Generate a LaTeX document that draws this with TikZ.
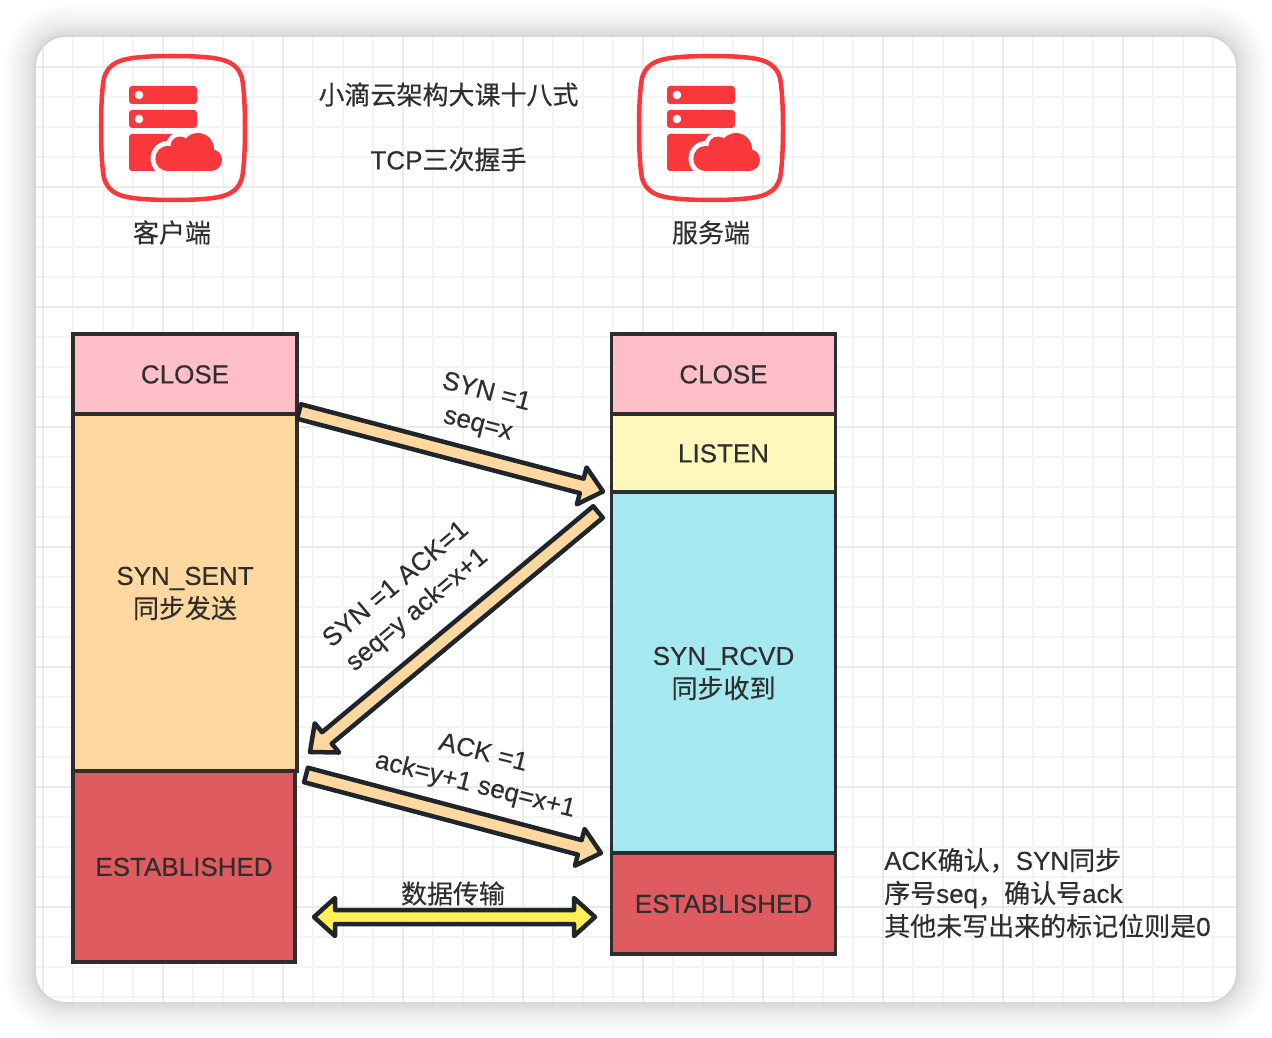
\documentclass[tikz,border=0pt]{standalone}
\usepackage{fontspec}
\setmainfont{Liberation Sans}[FakeBold=0.25]
\newfontfamily\cjk{Noto Sans CJK SC}[FakeBold=0.25]
\usetikzlibrary{calc}
\definecolor{inkdark}{HTML}{1F262B}
\definecolor{textdark}{HTML}{2E2E2E}
\definecolor{iconred}{HTML}{FA383C}
\definecolor{closepink}{HTML}{FFBFC9}
\definecolor{sentorange}{HTML}{FFD8A0}
\definecolor{estred}{HTML}{DE5B60}
\definecolor{listenyellow}{HTML}{FFF8BD}
\definecolor{rcvdcyan}{HTML}{A5E8F0}
\definecolor{datayellow}{HTML}{FFF056}
\definecolor{gridminor}{HTML}{F4F4F4}
\definecolor{gridmajor}{HTML}{EBEBEB}
\tikzset{
	label text/.style={font=\fontsize{26}{33}\selectfont, color=textdark, align=center, inner sep=0pt},
	statebox/.style={draw=inkdark, line width=3.5pt, minimum width=224pt, inner sep=0pt, outer sep=0pt, label text, text=textdark, text height=19pt},
	statebox two/.style={statebox, text height=53pt},
	arrow line/.style={draw=inkdark, line width=4.5pt, line join=round},
}
\newcommand{\zh}[1]{{\cjk #1}}
\def\blockarrow[#1](#2)(#3){
	\coordinate (neck) at ($(#3)!22pt!(#2)$);
	\draw[arrow line, #1] ($(#2)!7.5pt!90:(#3)$) -- ($(neck)!7.5pt!90:(#3)$) -- ($(neck)!19pt!90:(#3)$) -- (#3)
		-- ($(neck)!19pt!-90:(#3)$) -- ($(neck)!7.5pt!-90:(#3)$) -- ($(#2)!7.5pt!-90:(#3)$) -- cycle;
}
\def\dataarrow[#1](#2)(#3){
	\coordinate (neckA) at ($(#2)!21pt!(#3)$);
	\coordinate (neckB) at ($(#3)!21pt!(#2)$);
	\draw[arrow line, #1] (#2) -- ($(neckA)!19pt!90:(#3)$) -- ($(neckA)!7pt!90:(#3)$) -- ($(neckB)!7pt!-90:(#2)$) -- ($(neckB)!19pt!-90:(#2)$) -- (#3)
		-- ($(neckB)!19pt!90:(#2)$) -- ($(neckB)!7pt!90:(#2)$) -- ($(neckA)!7pt!-90:(#3)$) -- ($(neckA)!19pt!-90:(#3)$) -- cycle;
}
\def\servericon(#1){
	\begin{scope}[shift={(#1)}]
		\draw[iconred, line width=4.5pt] (0,-72) .. controls (20,-72) and (40,-71) .. (50,-68) .. controls (60,-65) and (66,-60) .. (69,-50)
			.. controls (71,-40) and (72,-20) .. (72,0) .. controls (72,20) and (71,40) .. (69,50) .. controls (66,60) and (60,65) .. (50,68)
			.. controls (40,71) and (20,72) .. (0,72) .. controls (-20,72) and (-40,71) .. (-50,68) .. controls (-60,65) and (-66,60) .. (-69,50)
			.. controls (-71,40) and (-72,20) .. (-72,0) .. controls (-72,-20) and (-71,-40) .. (-69,-50) .. controls (-66,-60) and (-60,-65) .. (-50,-68)
			.. controls (-40,-71) and (-20,-72) .. (0,-72) -- cycle;
		\fill[iconred, rounded corners=3pt] (-44,-42) rectangle (24,-24);
		\fill[iconred, rounded corners=3pt] (-44,-18) rectangle (24,0);
		\fill[white] (-34,-33) circle (4.3);
		\fill[white] (-34,-9) circle (4.3);
		% block under the cloud, with a white gap round the cloud
		\begin{scope}
			\clip (-44,6) rectangle (8,43);
			\fill[iconred, rounded corners=3pt] (-44,6) rectangle (30,43);
			\fill[white] (-5,30.5) circle (17.5);
			\fill[white] (7,18) circle (14);
			\fill[white] (-5,30) rectangle (10,50);
		\end{scope}
		\fill[iconred] (-5,30.5) circle (12.7);
		\fill[iconred] (7,18) circle (9.5);
		\fill[iconred] (25,21) circle (16);
		\fill[iconred] (38,32) circle (11);
		\fill[iconred] (-5,30) rectangle (38,43);
		\fill[iconred] (5,18) rectangle (30,32);
	\end{scope}
}

\begin{document}
\begin{tikzpicture}[x=1pt,y=-1pt]
	\useasboundingbox (0,0) rectangle (1272,1038);
	\fill[white] (0,0) rectangle (1272,1038);

	% soft shadow of the sheet
	\foreach \n in {16,15,...,0}{
		\pgfmathsetmacro{\r}{\n*\n/8}
		\fill[black, opacity=0.011, rounded corners={30pt+\r pt}] (36-\r,37-\r) rectangle (1236+\r,1002+\r);
	}
	\fill[white, rounded corners=30pt] (36,37) rectangle (1236,1002);

	% grid paper
	\begin{scope}
		\clip[rounded corners=30pt] (36,37) rectangle (1236,1002);
		\foreach \x in {73,103,...,1213}{ \draw[gridminor, line width=2pt] (\x,37) -- (\x,1002); }
		\foreach \y in {97,127,...,997}{ \draw[gridminor, line width=2pt] (36,\y) -- (1236,\y); }
		\foreach \x in {43,163,...,1123}{ \draw[gridmajor, line width=2pt] (\x,37) -- (\x,1002); }
		\foreach \y in {67,187,...,907}{ \draw[gridmajor, line width=2pt] (36,\y) -- (1236,\y); }
	\end{scope}

	% title and the two hosts
	\servericon(173,128)
	\servericon(711,128)
	\node[label text] (client) at (172,232.5) {\zh{客户端}};
	\node[label text] (server) at (711,232.5) {\zh{服务端}};
	\node[label text] (course) at (448.5,94.5) {\zh{小滴云架构大课十八式}};
	\node[label text] (title) at (448.5,159.5) {TCP\zh{三次握手}};

	% client states
	\node[statebox two, fill=sentorange, minimum height=357pt] (cliSent) at (185,592.5) {SYN\_SENT\\\zh{同步发送}};
	\node[statebox, fill=closepink, minimum height=80pt] (cliClose) at (185,374) {CLOSE};
	\node[statebox, fill=estred, minimum width=222pt, minimum height=191pt] (cliEst) at (184,866.5) {ESTABLISHED};

	% server states
	\node[statebox, fill=closepink, minimum height=80pt] (srvClose) at (723.5,374) {CLOSE};
	\node[statebox, fill=listenyellow, minimum height=78pt] (srvListen) at (723.5,453) {LISTEN};
	\node[statebox two, fill=rcvdcyan, minimum height=361pt] (srvRcvd) at (723.5,672.5) {SYN\_RCVD\\\zh{同步收到}};
	\node[statebox, fill=estred, minimum height=101pt] (srvEst) at (723.5,903.5) {ESTABLISHED};

	% handshake
	\coordinate (synStart) at (299,411.5);
	\coordinate (synEnd) at (603,491.5);
	\coordinate (ackStart) at (598,512);
	\coordinate (ackEnd) at (310,752);
	\coordinate (lastStart) at (306,775);
	\coordinate (lastEnd) at (601,853);
	\coordinate (dataLeft) at (314,917);
	\coordinate (dataRight) at (595,917);
	\blockarrow[fill=sentorange](synStart)(synEnd)
	\blockarrow[fill=sentorange](ackStart)(ackEnd)
	\blockarrow[fill=sentorange](lastStart)(lastEnd)
	\dataarrow[fill=datayellow](dataLeft)(dataRight)

	\node[label text, rotate=-14.5] (synText) at (482,409) {SYN =1\\seq=x};
	\node[label text, rotate=40] (ackText) at (407,598) {SYN =1 ACK=1\\seq=y ack=x+1};
	\node[label text, rotate=-14] (lastText) at (479,770) {ACK =1\\ack=y+1 seq=x+1};
	\node[label text] (dataText) at (453,893.5) {\zh{数据传输}};

	\node[label text, align=left, anchor=west] (noteText) at (884,893) {ACK\zh{确认，}SYN\zh{同步}\\\zh{序号}seq\zh{，确认号}ack\\\zh{其他未写出来的标记位则是}0};
\end{tikzpicture}
\end{document}
